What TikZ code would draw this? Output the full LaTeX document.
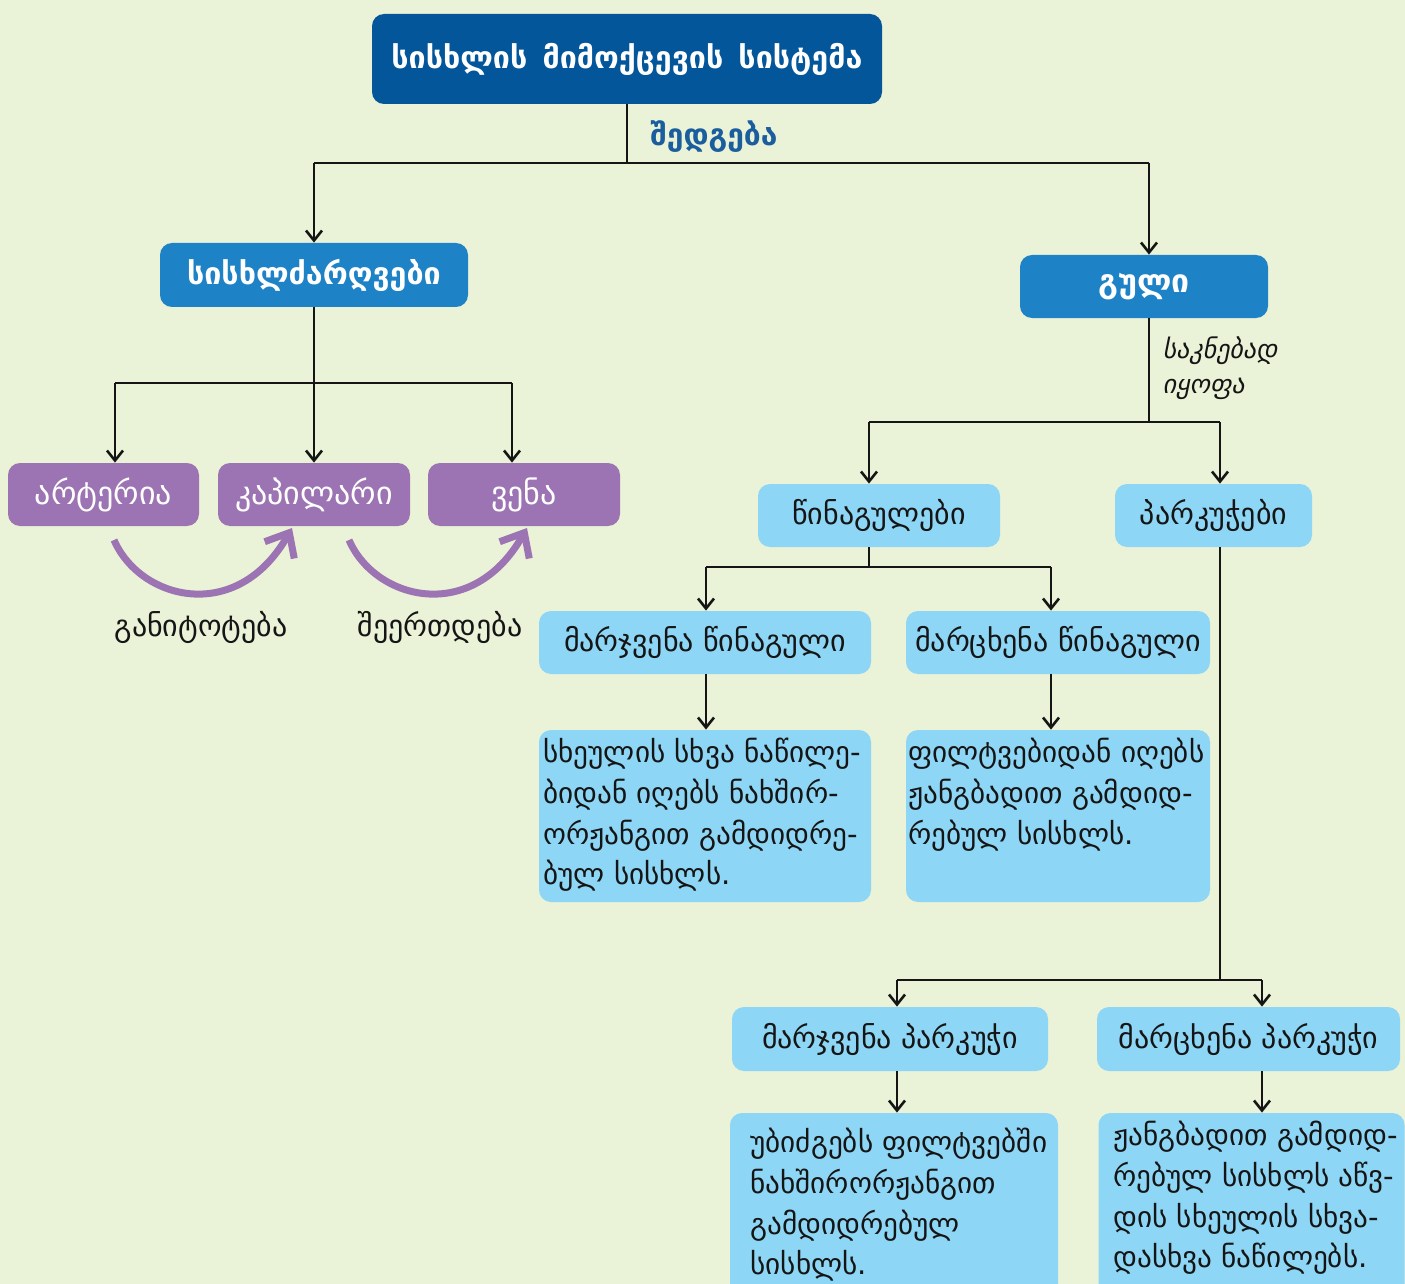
\documentclass[tikz,border=0pt]{standalone}
\usepackage{fontspec}
\setmainfont{DejaVu Sans}
\newfontfamily\geoslant[FakeSlant=0.2]{DejaVu Sans}
\usetikzlibrary{arrows.meta}
\definecolor{bg}{HTML}{EAF2D7}
\definecolor{navy}{HTML}{03569A}
\definecolor{midblue}{HTML}{1E82C6}
\definecolor{lilac}{HTML}{9C74B3}
\definecolor{sky}{HTML}{8ED6F5}
\definecolor{ink}{HTML}{151515}
\definecolor{labelblue}{HTML}{1A5E9E}
\begin{document}
\begin{tikzpicture}[x=0.5pt,y=-0.5pt,
  boxbase/.style={rounded corners=6pt, inner sep=0pt, align=center},
  topbox/.style={boxbase, fill=navy, text=white, font=\fontsize{15.2}{20}\selectfont\bfseries},
  midbox/.style={boxbase, fill=midblue, text=white, font=\fontsize{15.2}{20}\selectfont\bfseries},
  lilacbox/.style={boxbase, fill=lilac, text=white, font=\fontsize{16}{20}\selectfont},
  skybox/.style={boxbase, fill=sky, text=ink, font=\fontsize{15}{20}\selectfont},
  bodytext/.style={inner sep=0pt, align=left, anchor=north west, text=ink, font=\fontsize{14.6}{20.3}\selectfont},
  connector/.style={draw=ink, line width=1.3pt},
  arr/.style={connector, -{Straight Barb[length=5pt,width=8pt]}},
  flowarc/.style={draw=lilac, line width=3.5pt, -{Straight Barb[length=10pt,width=17pt]}},
]
\fill[bg] (0,0) rectangle (1405,1284);
\useasboundingbox (0,0) rectangle (1405,1284);
\clip (0,0) rectangle (1405,1284);

% --- top level
\node[topbox, minimum width=255pt, minimum height=45pt] (sys) at (627,59)
  {სისხლის\hspace{0.5em}მიმოქცევის\hspace{0.5em}სისტემა};
\node[anchor=west, inner sep=0pt, text=labelblue, font=\fontsize{15}{18}\selectfont\bfseries]
  (consists) at (650,137) {შედგება};

% --- second level
\node[midbox, minimum width=154pt, minimum height=32pt] (vessels) at (314,275) {სისხლძარღვები};
\node[midbox, minimum width=124pt, minimum height=31.5pt, font=\fontsize{16}{20}\selectfont\bfseries]
  (heart) at (1144,286.5) {გული};

% --- vessel types
\node[lilacbox, minimum width=95.5pt, minimum height=31.5pt] (art) at (103.5,494.5) {არტერია};
\node[lilacbox, minimum width=96pt, minimum height=31.5pt] (cap) at (314,494.5) {კაპილარი};
\node[lilacbox, minimum width=96pt, minimum height=31.5pt] (vena) at (524,494.5) {ვენა};

\node[inner sep=0pt, text=ink, font=\fontsize{15}{18}\selectfont] (branch) at (201,627) {განიტოტება};
\node[inner sep=0pt, text=ink, font=\fontsize{15}{18}\selectfont] (join) at (440,627) {შეერთდება};

% --- heart chambers
\node[anchor=north west, inner sep=0pt, align=left, text=ink,
  font=\fontsize{13}{17.5}\selectfont\geoslant] (divides) at (1162,336) {საკნებად\\იყოფა};
\node[skybox, minimum width=121pt, minimum height=31.5pt] (atria) at (879,515.5) {წინაგულები};
\node[skybox, minimum width=98.5pt, minimum height=31.5pt] (ventr) at (1213.5,515.5) {პარკუჭები};

\node[skybox, minimum width=166pt, minimum height=31.5pt] (ra) at (705,642.5) {მარჯვენა წინაგული};
\node[skybox, minimum width=152pt, minimum height=31.5pt] (la) at (1058,642.5) {მარცხენა წინაგული};
\node[skybox, minimum width=166pt, minimum height=86pt] (raBox) at (705,816) {};
\node[skybox, minimum width=152pt, minimum height=86pt] (laBox) at (1058,816) {};
\node[bodytext] (raText) at (543,738)
  {სხეულის სხვა ნაწილე-\\ბიდან იღებს ნახშირ-\\ორჟანგით გამდიდრე-\\ბულ სისხლს.};
\node[bodytext] (laText) at (908,738)
  {ფილტვებიდან იღებს\\ჟანგბადით გამდიდ-\\რებულ სისხლს.};

\node[skybox, minimum width=158pt, minimum height=32pt] (rv) at (890,1039) {მარჯვენა პარკუჭი};
\node[skybox, minimum width=151.5pt, minimum height=32pt] (lv) at (1248.5,1039) {მარცხენა პარკუჭი};
\node[skybox, minimum width=164pt, minimum height=98.5pt] (rvBox) at (894,1211.5) {};
\node[skybox, minimum width=153pt, minimum height=98.5pt] (lvBox) at (1251.5,1211.5) {};
\node[bodytext] (rvText) at (750,1128)
  {უბიძგებს ფილტვებში\\ნახშირორჟანგით\\გამდიდრებულ\\სისხლს.};
\node[bodytext] (lvText) at (1113,1121)
  {ჟანგბადით გამდიდ-\\რებულ სისხლს აწვ-\\დის სხეულის სხვა-\\დასხვა ნაწილებს.};

% --- connectors: system -> parts
\coordinate (j0) at (627,163);
\coordinate (jL) at (314,163);
\coordinate (jR) at (1149,163);
\draw[connector] (sys.south) -- (j0);
\draw[connector] (jL) -- (jR);
\draw[arr] (jL) -- (vessels.north);
\draw[arr] (jR) -- (jR |- heart.north);

% --- vessels -> types
\coordinate (v0) at (314,383);
\coordinate (vA) at (115,383);
\coordinate (vC) at (512,383);
\draw[connector] (vessels.south) -- (v0);
\draw[connector] (vA) -- (vC);
\draw[arr] (vA) -- (vA |- art.north);
\draw[arr] (v0) -- (cap.north);
\draw[arr] (vC) -- (vC |- vena.north);

% --- flow between vessel types
\coordinate (b1s) at (114,540);
\coordinate (b1e) at (292,528);
\coordinate (b2s) at (349,540);
\coordinate (b2e) at (527,528);
\draw[flowarc] (b1s) .. controls (140,600) and (237,625) .. (b1e);
\draw[flowarc] (b2s) .. controls (375,600) and (472,625) .. (b2e);

% --- heart -> chambers
\coordinate (h0) at (1149,422);
\coordinate (hA) at (869,422);
\coordinate (hV) at (1220,422);
\draw[connector] (h0 |- heart.south) -- (h0);
\draw[connector] (hA) -- (hV);
\draw[arr] (hA) -- (hA |- atria.north);
\draw[arr] (hV) -- (hV |- ventr.north);

% --- atria -> left/right atrium
\coordinate (a0) at (869,567);
\coordinate (aR) at (706,567);
\coordinate (aL) at (1051,567);
\draw[connector] (a0 |- atria.south) -- (a0);
\draw[connector] (aR) -- (aL);
\draw[arr] (aR) -- (aR |- ra.north);
\draw[arr] (aL) -- (aL |- la.north);
\draw[arr] (aR |- ra.south) -- (aR |- raBox.north);
\draw[arr] (aL |- la.south) -- (aL |- laBox.north);

% --- ventricles -> left/right ventricle
\coordinate (p0) at (1220,980);
\coordinate (pR) at (897,980);
\coordinate (pL) at (1262,980);
\draw[connector] (p0 |- ventr.south) -- (p0);
\draw[connector] (pR) -- (pL);
\draw[arr] (pR) -- (pR |- rv.north);
\draw[arr] (pL) -- (pL |- lv.north);
\draw[arr] (pR |- rv.south) -- (pR |- rvBox.north);
\draw[arr] (pL |- lv.south) -- (pL |- lvBox.north);
\end{tikzpicture}
\end{document}
